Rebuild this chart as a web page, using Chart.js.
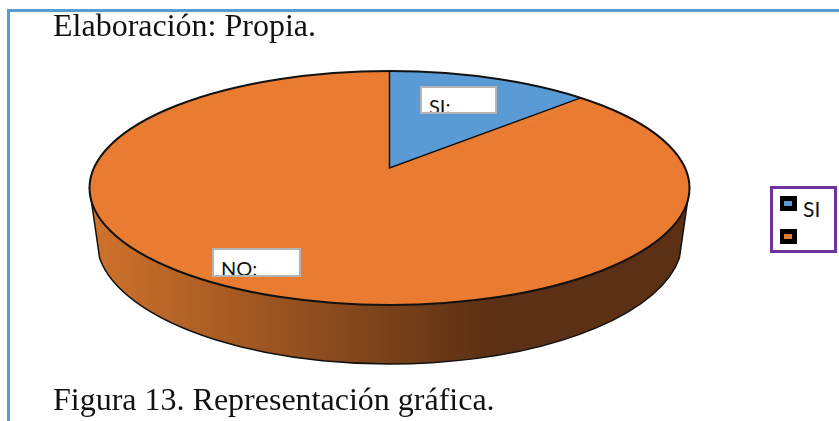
<!DOCTYPE html>
<html lang="es"><head><meta charset="utf-8">
<script src="https://cdn.jsdelivr.net/npm/chart.js@4"></script>
<style>
html,body{margin:0;padding:0;background:#fff;overflow:hidden}
#wrap{position:relative;width:839px;height:421px;overflow:hidden}
canvas{position:absolute;left:0;top:0}
.frameT{position:absolute;left:7px;top:9px;width:832px;height:3px;background:#5b9bd5}
.frameL{position:absolute;left:7px;top:9px;width:3px;height:412px;background:#5b9bd5}
.cap{position:absolute;left:53px;font:32px "Liberation Serif",serif;color:#111;white-space:nowrap;line-height:34px}
.lab{position:absolute;box-sizing:border-box;background:#fff;border:2px solid #b4b4b4;overflow:hidden;font:20px Lato,sans-serif;color:#111}
.lab span{position:absolute;left:7px;white-space:nowrap;line-height:24px}
#legend{position:absolute;left:770px;top:186px;width:67px;height:67px;box-sizing:border-box;border:3px solid #7030a0;background:#fff}
.sw{position:absolute;left:7px;width:17px;height:15px;background:#000}
.sw i{position:absolute;left:4px;top:5px;width:8px;height:5px;display:block}
.lt{position:absolute;left:30px;font:21px Lato,sans-serif;color:#111;line-height:24px}
</style></head>
<body><div id="wrap">
<canvas id="c" width="839" height="421"></canvas>
<div class="frameT"></div><div class="frameL"></div>
<div class="cap" style="top:8px">Elaboración: Propia.</div>
<div class="cap" style="top:382px">Figura 13. Representación gráfica.</div>
<div class="lab" style="left:420px;top:86px;width:77px;height:28px"><span style="top:6px">SI:</span></div>
<div class="lab" style="left:212px;top:248px;width:89px;height:29px"><span style="top:6px">NO:</span></div>
<div id="legend"></div>
</div>
<script>
const categories = ['SI', 'NO'];
const values = [11, 89];
const legendLabels = ['SI', ''];
const sliceColors = ['#5b9bd5', '#ea7c31'];

const stretchX = 300 / 117;
const apexLift = 20;
const wallCenterDrop = 52, wallRx = 293, wallRy = 124, wallJoin = 0.146;

const pie3d = {
  id: 'pie3d',
  beforeDatasetsDraw(chart) {
    const ctx = chart.ctx;
    const arc = chart.getDatasetMeta(0).data[0];
    const cx = arc.x, cy = arc.y, r = arc.outerRadius, rx = r * stretchX;
    const g = ctx.createLinearGradient(cx - rx + 10, 0, cx + 100, 0);
    g.addColorStop(0, '#cd712b');
    g.addColorStop(1, '#5c3014');
    ctx.save();
    ctx.beginPath();
    ctx.moveTo(cx - rx, cy);
    ctx.ellipse(cx, cy + wallCenterDrop, wallRx, wallRy, 0, Math.PI - wallJoin, wallJoin, true);
    ctx.lineTo(cx + rx, cy);
    ctx.closePath();
    ctx.fillStyle = g;
    ctx.fill();
    ctx.strokeStyle = '#111';
    ctx.lineWidth = 1.5;
    ctx.stroke();
    ctx.restore();
    // flatten the round pie into the ellipse of the top face
    ctx.save();
    ctx.translate(cx, 0);
    ctx.scale(stretchX, 1);
    ctx.translate(-cx, 0);
  },
  afterDatasetsDraw(chart) {
    const ctx = chart.ctx;
    ctx.restore();
    const arc = chart.getDatasetMeta(0).data[0];
    const cx = arc.x, cy = arc.y, r = arc.outerRadius, rx = r * stretchX;
    const ex = cx + Math.cos(arc.endAngle) * rx;
    const ey = cy + Math.sin(arc.endAngle) * r;
    const ax = cx, ay = cy - apexLift;
    ctx.save();
    // the apex of the wedge sits above the ellipse centre, as in a perspective view
    ctx.beginPath();
    ctx.moveTo(cx - 2, cy + 2);
    ctx.lineTo(cx - 2, ay);
    ctx.lineTo(ax, ay);
    ctx.lineTo(ex, ey);
    ctx.closePath();
    ctx.fillStyle = sliceColors[1];
    ctx.fill();
    ctx.strokeStyle = '#111';
    ctx.lineWidth = 1.5;
    ctx.beginPath();
    ctx.moveTo(cx, cy - r);
    ctx.lineTo(ax, ay);
    ctx.lineTo(ex, ey);
    ctx.stroke();
    ctx.lineWidth = 2;
    ctx.beginPath();
    ctx.ellipse(cx, cy, rx, r, 0, 0, Math.PI * 2);
    ctx.stroke();
    ctx.restore();
  }
};

new Chart(document.getElementById('c'), {
  type: 'pie',
  data: { labels: categories, datasets: [{ data: values, backgroundColor: sliceColors, borderWidth: 0 }] },
  options: {
    responsive: false,
    animation: false,
    layout: { padding: { top: 71, bottom: 116, left: 0, right: 60 } },
    plugins: { legend: { display: false }, tooltip: { enabled: false } }
  },
  plugins: [pie3d]
});

const legend = document.getElementById('legend');
legendLabels.forEach((t, i) => {
  const top = 7 + i * 33;
  const sw = document.createElement('div');
  sw.className = 'sw'; sw.style.top = top + 'px';
  const inner = document.createElement('i');
  inner.style.background = sliceColors[i];
  sw.appendChild(inner); legend.appendChild(sw);
  if (t) {
    const l = document.createElement('div');
    l.className = 'lt'; l.style.top = (top + 1) + 'px'; l.textContent = t;
    legend.appendChild(l);
  }
});
</script>
</body></html>
